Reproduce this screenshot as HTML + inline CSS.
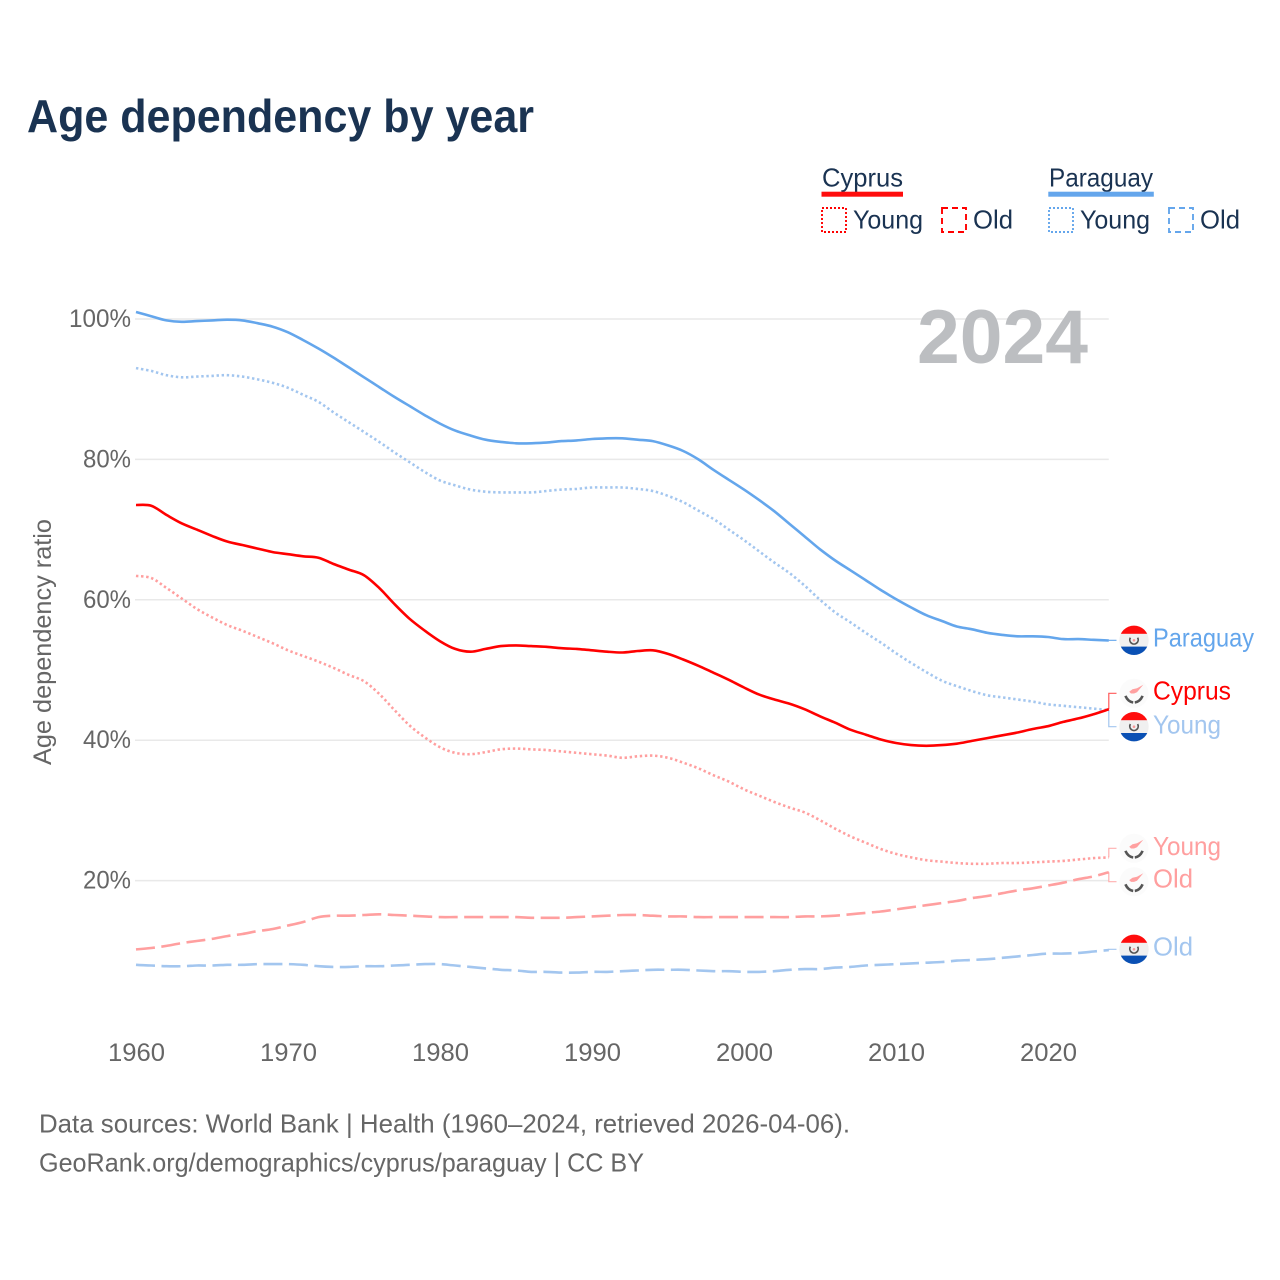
<!DOCTYPE html>
<html lang="en">
<head>
<meta charset="utf-8">
<title>Age dependency by year</title>
<style>
html,body{margin:0;padding:0;background:#fff;}
svg{display:block;}
text{font-family:"Liberation Sans",sans-serif;}
</style>
</head>
<body>
<svg id="chart" xmlns="http://www.w3.org/2000/svg" width="1280" height="1280" viewBox="0 0 1280 1280">
  <defs>
    <clipPath id="flag-clip"><circle cx="0" cy="0" r="14.7"/></clipPath>
    <g id="flag-py">
      <g clip-path="url(#flag-clip)">
        <rect x="-15" y="-15" width="30" height="30" fill="#f0f0f0"/>
        <rect x="-15" y="-15" width="30" height="8.5" fill="#ff0d0d"/>
        <rect x="-15" y="6.3" width="30" height="9" fill="#0a50b4"/>
      </g>
      <path d="M-3.6,-2.6 A4.2,4.2 0 1 0 3.6,-2.6" fill="none" stroke="#555" stroke-width="1.7"/>
      <circle cx="0" cy="0" r="1.3" fill="#f79a9a"/>
    </g>
    <g id="flag-cy">
      <circle cx="0" cy="0" r="14.5" fill="#fbfbfb"/>
      <path d="M-4.8,-1.6 L-1.5,-4 L3,-5 L9.3,-8.5 L5.5,-4 L3,-1 L0,0.2 L-3,0.2 Z" fill="#ffa0a0"/>
      <path d="M-8.6,2.6 Q-6,8.5 -0.8,9.2 M8.6,2.6 Q6,8.5 0.8,9.2" fill="none" stroke="#555" stroke-width="2.6"/>
    </g>
  </defs>

  <text x="27" y="132" font-size="46" font-weight="700" fill="#1a3352" textLength="507" lengthAdjust="spacingAndGlyphs">Age dependency by year</text>

  <g font-size="26" fill="#1a3352">
    <text x="822" y="186.5" textLength="81" lengthAdjust="spacingAndGlyphs">Cyprus</text>
    <rect x="821.5" y="191.7" width="81.5" height="5" fill="#ff0d0d"/>
    <rect x="822" y="208" width="24" height="24" fill="none" stroke="#ff0000" stroke-width="1.9" stroke-dasharray="2 2"/>
    <text x="853" y="228.5" textLength="70" lengthAdjust="spacingAndGlyphs">Young</text>
    <rect x="942" y="208" width="24" height="24" fill="none" stroke="#ff0000" stroke-width="1.9" stroke-dasharray="6 4"/>
    <text x="973" y="228.5" textLength="40" lengthAdjust="spacingAndGlyphs">Old</text>
    <text x="1049" y="186.5" textLength="104" lengthAdjust="spacingAndGlyphs">Paraguay</text>
    <rect x="1048.3" y="191.7" width="105.5" height="5" fill="#64a6ec"/>
    <rect x="1049" y="208" width="24" height="24" fill="none" stroke="#64a6ec" stroke-width="1.9" stroke-dasharray="2 2"/>
    <text x="1080" y="228.5" textLength="70" lengthAdjust="spacingAndGlyphs">Young</text>
    <rect x="1169" y="208" width="24" height="24" fill="none" stroke="#64a6ec" stroke-width="1.9" stroke-dasharray="6 4"/>
    <text x="1200" y="228.5" textLength="40" lengthAdjust="spacingAndGlyphs">Old</text>
  </g>

  <g id="grid"></g>
  <g id="y-ticks"></g>
  <g id="x-ticks"></g>

  <text x="917" y="363" font-size="76" font-weight="700" fill="#bcbec1" textLength="171" lengthAdjust="spacingAndGlyphs">2024</text>

  <text transform="translate(51,765) rotate(-90)" font-size="25" fill="#666" textLength="246" lengthAdjust="spacingAndGlyphs">Age dependency ratio</text>

  <g id="connectors"></g>
  <g id="series"></g>

  <g font-size="26">
    <use href="#flag-py" x="1134" y="640.3"/>
    <text x="1153" y="646.5" fill="#64a6ec" textLength="101" lengthAdjust="spacingAndGlyphs">Paraguay</text>
    <use href="#flag-cy" x="1134" y="693.3"/>
    <text x="1153" y="699.5" fill="#ff0000" textLength="78" lengthAdjust="spacingAndGlyphs">Cyprus</text>
    <use href="#flag-py" x="1134" y="726.7"/>
    <text x="1153" y="733.5" fill="#a3c6ef" textLength="68" lengthAdjust="spacingAndGlyphs">Young</text>
    <use href="#flag-cy" x="1134" y="848.3"/>
    <text x="1153" y="855" fill="#ff9f9f" textLength="68" lengthAdjust="spacingAndGlyphs">Young</text>
    <use href="#flag-cy" x="1134" y="881.7"/>
    <text x="1153" y="887.5" fill="#ff9f9f" textLength="40" lengthAdjust="spacingAndGlyphs">Old</text>
    <use href="#flag-py" x="1134" y="949.3"/>
    <text x="1153" y="955.5" fill="#a3c6ef" textLength="40" lengthAdjust="spacingAndGlyphs">Old</text>
  </g>

  <g font-size="26" fill="#666">
    <text x="39" y="1132.5" textLength="811" lengthAdjust="spacingAndGlyphs">Data sources: World Bank | Health (1960–2024, retrieved 2026-04-06).</text>
    <text x="39" y="1171.5" textLength="605" lengthAdjust="spacingAndGlyphs">GeoRank.org/demographics/cyprus/paraguay | CC BY</text>
  </g>
</svg>

<script>
const startYear = 1960;
const xTickYears = [1960,1970,1980,1990,2000,2010,2020];
const yTickValues = [20,40,60,80,100];
const yTickLabels = ["20%","40%","60%","80%","100%"];

const paraguayTotal = [101.0,100.4,99.8,99.6,99.7,99.8,99.9,99.8,99.4,98.9,
  98.1,97.0,95.8,94.5,93.1,91.7,90.3,88.9,87.6,86.3,
  85.1,84.1,83.4,82.8,82.5,82.3,82.3,82.4,82.6,82.7,
  82.9,83.0,83.0,82.8,82.6,82.0,81.2,80.0,78.5,77.1,
  75.7,74.2,72.6,70.8,69.0,67.2,65.6,64.2,62.8,61.4,
  60.1,58.9,57.8,57.0,56.2,55.8,55.3,55.0,54.8,54.8,
  54.7,54.4,54.4,54.3,54.2];
const paraguayYoung = [93.0,92.6,92.0,91.7,91.8,91.9,92.0,91.8,91.4,90.9,
  90.2,89.2,88.2,86.7,85.3,83.9,82.5,81.0,79.6,78.2,
  77.0,76.3,75.7,75.4,75.3,75.3,75.3,75.5,75.7,75.8,
  76.0,76.0,76.0,75.8,75.5,74.8,73.9,72.7,71.5,70.0,
  68.5,66.9,65.3,63.8,62.0,60.0,58.2,56.8,55.3,53.9,
  52.4,51.0,49.7,48.5,47.7,47.0,46.4,46.1,45.8,45.5,
  45.1,44.9,44.7,44.5,44.3];
const paraguayOld = [8.0,7.9,7.8,7.8,7.9,7.9,8.0,8.0,8.1,8.1,
  8.1,8.0,7.8,7.7,7.7,7.8,7.8,7.9,8.0,8.1,
  8.1,7.9,7.7,7.5,7.3,7.2,7.0,7.0,6.9,6.9,
  7.0,7.0,7.1,7.2,7.3,7.3,7.3,7.2,7.1,7.1,
  7.0,7.0,7.1,7.3,7.4,7.4,7.6,7.7,7.9,8.0,
  8.1,8.2,8.3,8.4,8.6,8.7,8.8,9.0,9.2,9.4,
  9.6,9.6,9.7,9.9,10.1];
const cyprusTotal = [73.5,73.4,72.1,70.9,70.0,69.1,68.3,67.8,67.3,66.8,
  66.5,66.2,66.0,65.1,64.3,63.5,61.7,59.4,57.3,55.6,
  54.1,53.0,52.6,53.0,53.4,53.5,53.4,53.3,53.1,53.0,
  52.8,52.6,52.5,52.7,52.8,52.3,51.5,50.6,49.6,48.6,
  47.5,46.5,45.8,45.2,44.4,43.4,42.5,41.5,40.8,40.1,
  39.6,39.3,39.2,39.3,39.5,39.9,40.3,40.7,41.1,41.6,
  42.0,42.6,43.1,43.7,44.4];
const cyprusYoung = [63.4,63.1,61.7,60.2,58.7,57.5,56.4,55.6,54.7,53.8,
  52.8,52.0,51.2,50.3,49.3,48.4,46.6,44.3,42.1,40.4,
  39.0,38.2,38.0,38.3,38.7,38.8,38.7,38.6,38.4,38.2,
  38.0,37.8,37.5,37.7,37.8,37.5,36.8,36.0,35.0,34.1,
  33.0,32.1,31.2,30.4,29.7,28.6,27.4,26.3,25.4,24.5,
  23.8,23.3,22.9,22.7,22.5,22.4,22.4,22.5,22.5,22.6,
  22.7,22.8,23.0,23.2,23.3];
const cyprusOld = [10.2,10.4,10.7,11.1,11.4,11.7,12.1,12.4,12.8,13.1,
  13.6,14.1,14.8,15.0,15.0,15.1,15.2,15.1,15.0,14.9,
  14.8,14.8,14.8,14.8,14.8,14.8,14.7,14.7,14.7,14.8,
  14.9,15.0,15.1,15.1,15.0,14.9,14.9,14.8,14.8,14.8,
  14.8,14.8,14.8,14.8,14.9,14.9,15.0,15.2,15.4,15.6,
  15.9,16.2,16.5,16.8,17.1,17.5,17.8,18.2,18.6,18.9,
  19.3,19.7,20.2,20.6,21.2];

const NS = "http://www.w3.org/2000/svg";
function xScale(year){ return 136 + (year - 1960) * 15.2; }
function yScale(v){ return 1021 - v * 7.02; }

const gridGroup = document.getElementById("grid");
const yTickGroup = document.getElementById("y-ticks");
yTickValues.forEach(function(v, i){
  const line = document.createElementNS(NS, "line");
  
  
  line.setAttribute("x1", xScale(1960) - 1);
  line.setAttribute("x2", xScale(2024));
  line.setAttribute("y1", yScale(v));
  line.setAttribute("y2", yScale(v));
  line.setAttribute("stroke", "#e9e9e9");
  line.setAttribute("stroke-width", "1.5");
  gridGroup.appendChild(line);

  const label = document.createElementNS(NS, "text");
  
  
  label.setAttribute("x", 131);
  label.setAttribute("y", yScale(v) + 8);
  label.setAttribute("text-anchor", "end");
  label.setAttribute("font-size", "25");
  label.setAttribute("fill", "#666");
  label.setAttribute("textLength", yTickLabels[i].length === 4 ? 62 : 48);
  label.setAttribute("lengthAdjust", "spacingAndGlyphs");
  label.textContent = yTickLabels[i];
  yTickGroup.appendChild(label);
});

const xTickGroup = document.getElementById("x-ticks");
xTickYears.forEach(function(year){
  const label = document.createElementNS(NS, "text");
  
  
  label.setAttribute("x", xScale(year) + 0.5);
  label.setAttribute("y", 1061);
  label.setAttribute("text-anchor", "middle");
  label.setAttribute("font-size", "25");
  label.setAttribute("fill", "#666");
  label.setAttribute("textLength", 57);
  label.setAttribute("lengthAdjust", "spacingAndGlyphs");
  label.textContent = String(year);
  xTickGroup.appendChild(label);
});

function linePath(values){
  const pts = values.map(function(v, i){
    return [xScale(startYear + i), yScale(v)];
  });
  let d = "M" + pts[0][0].toFixed(1) + "," + pts[0][1].toFixed(1);
  for (let i = 0; i < pts.length - 1; i++) {
    const p0 = pts[Math.max(i - 1, 0)];
    const p1 = pts[i];
    const p2 = pts[i + 1];
    const p3 = pts[Math.min(i + 2, pts.length - 1)];
    const c1x = p1[0] + (p2[0] - p0[0]) / 6;
    const c1y = p1[1] + (p2[1] - p0[1]) / 6;
    const c2x = p2[0] - (p3[0] - p1[0]) / 6;
    const c2y = p2[1] - (p3[1] - p1[1]) / 6;
    d += " C" + c1x.toFixed(1) + "," + c1y.toFixed(1) + " " + c2x.toFixed(1) + "," + c2y.toFixed(1) + " " + p2[0].toFixed(1) + "," + p2[1].toFixed(1);
  }
  return d;
}

const seriesGroup = document.getElementById("series");
function addSeries(values, color, dash, name){
  const path = document.createElementNS(NS, "path");
  
  
  path.setAttribute("d", linePath(values));
  path.setAttribute("fill", "none");
  path.setAttribute("stroke", color);
  path.setAttribute("stroke-width", "2.6");
  path.setAttribute("stroke-linejoin", "round");
  if (dash) path.setAttribute("stroke-dasharray", dash);
  seriesGroup.appendChild(path);
}
addSeries(paraguayOld, "#a3c6ef", "19 6.5", "line-paraguay-old");
addSeries(cyprusOld, "#ff9f9f", "19 6.5", "line-cyprus-old");
addSeries(paraguayYoung, "#a3c6ef", "2.4 2.7", "line-paraguay-young");
addSeries(cyprusYoung, "#ff9f9f", "2.4 2.7", "line-cyprus-young");
addSeries(paraguayTotal, "#64a6ec", "", "line-paraguay-total");
addSeries(cyprusTotal, "#ff0000", "", "line-cyprus-total");

const connectorGroup = document.getElementById("connectors");
function addConnector(values, labelY, color, name){
  const endX = xScale(2024);
  const endY = yScale(values[values.length - 1]);
  const c = document.createElementNS(NS, "path");
  
  
  c.setAttribute("d", "M" + endX.toFixed(1) + "," + endY.toFixed(1) + " V" + labelY + " H1116.5");
  c.setAttribute("fill", "none");
  c.setAttribute("stroke", color);
  c.setAttribute("stroke-width", "1.2");
  connectorGroup.appendChild(c);
}
addConnector(paraguayTotal, 640.3, "#64a6ec", "connector-paraguay-total");
addConnector(cyprusTotal, 693.3, "#ff5a5a", "connector-cyprus-total");
addConnector(paraguayYoung, 726.7, "#a3c6ef", "connector-paraguay-young");
addConnector(cyprusYoung, 848.3, "#ffb0b0", "connector-cyprus-young");
addConnector(cyprusOld, 881.7, "#ffb0b0", "connector-cyprus-old");
addConnector(paraguayOld, 949.3, "#a3c6ef", "connector-paraguay-old");
</script>
</body>
</html>
